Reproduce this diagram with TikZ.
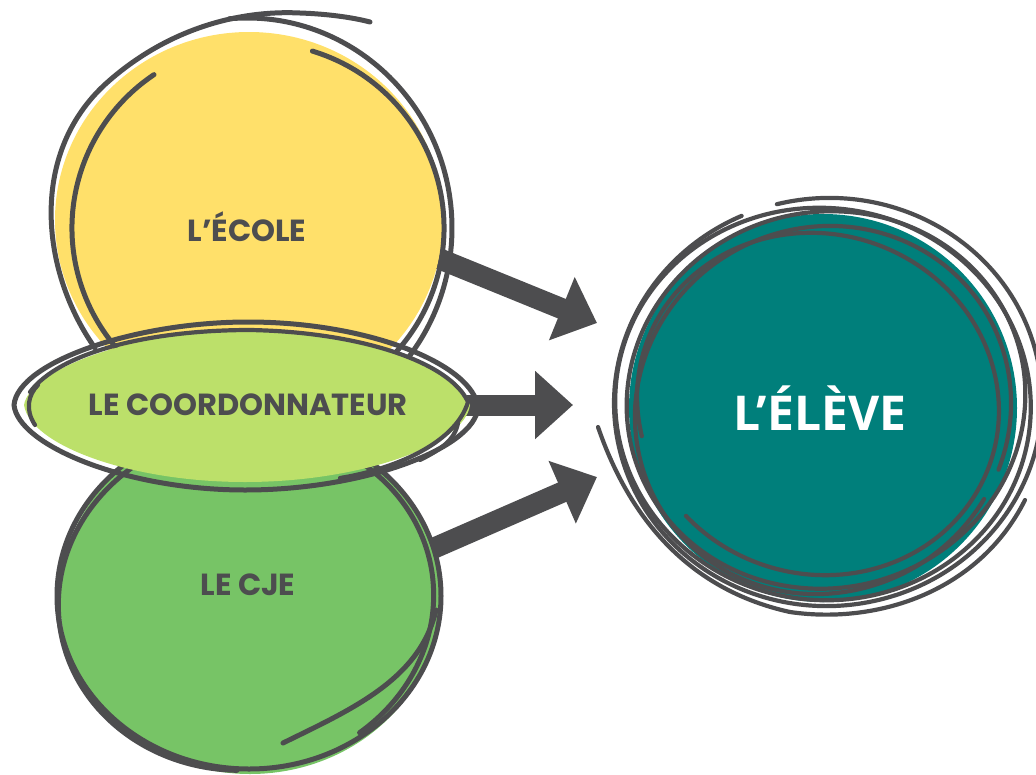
\documentclass[tikz,border=0pt]{standalone}
\usepackage{fontspec}
\usetikzlibrary{arrows.meta,calc}
\newfontfamily\popfont{Poppins}
\newfontfamily\osfont{Open Sans}
\definecolor{gr}{HTML}{4D4D4F}
\definecolor{yel}{HTML}{FFE06A}
\definecolor{lgreen}{HTML}{BCE06A}
\definecolor{mgreen}{HTML}{77C466}
\definecolor{teal}{HTML}{007F7B}
\tikzset{
  sk/.style={draw=gr, line width=5pt, line cap=round},
  skt/.style={draw=gr, line width=4.2pt, line cap=round},
  bigarrow/.style={draw=gr, line width=21pt, -{Triangle[width=66pt,length=38pt]}},
  lbl/.style={font=\popfont\bfseries\fontsize{30.5}{30.5}\selectfont, text=gr},
}
\newcommand{\scribarc}[8][sk]{\draw[#1, shift={(#2,#3)}, rotate=#6] (#7:#4 and #5) arc[start angle=#7, end angle=#8, x radius=#4, y radius=#5];}
\begin{document}
\begin{tikzpicture}[x=1pt,y=-1pt]
\useasboundingbox (0,0) rectangle (1036,774);
% named anchor points
\coordinate (ecS) at (430,255);
\coordinate (ecT) at (597,323);
\coordinate (coS) at (455,405);
\coordinate (coT) at (573,405);
\coordinate (cjS) at (425,552);
\coordinate (cjT) at (597,477);
% arrows (drawn behind circles)
\draw[bigarrow] (ecS) -- (ecT);
\draw[bigarrow] (coS) -- (coT);
\draw[bigarrow] (cjS) -- (cjT);
% ---------------- yellow: L'ECOLE
\fill[yel] (249,220) ellipse[x radius=194, y radius=188];
\draw[sk] (95,348) .. controls (40,270) and (28,150) .. (110,80) .. controls (170,28) and (240,10) .. (300,13) .. controls (330,14) and (355,18) .. (370,22);
\scribarc{247}{228}{205}{210}{0}{-95}{40}
\scribarc{258}{228}{186}{185}{0}{-73}{236}
\node[lbl] (ecole) at (247,227) {L’ÉCOLE};
% ---------------- green: LE CJE
\fill[mgreen] (250,598) ellipse[x radius=190, y radius=176];
\scribarc{249}{596}{192}{173}{0}{0}{360}
\scribarc{246}{600}{188}{170}{8}{100}{420}
\draw[sk] (283,743) .. controls (350,710) and (420,680) .. (436,610);
\node[lbl] (cje) at (248,585) {LE CJE};
% ---------------- light green: LE COORDONNATEUR
\fill[lgreen] (24,405) .. controls (30,368) and (140,330) .. (245,330) .. controls (360,330) and (465,368) .. (470,405) .. controls (465,445) and (360,482) .. (245,482) .. controls (130,482) and (30,445) .. (24,405) -- cycle;
\draw[sk] (14,405) .. controls (18,362) and (135,322) .. (248,322) .. controls (370,322) and (474,365) .. (478,408) .. controls (474,448) and (365,490) .. (245,490) .. controls (125,490) and (18,445) .. (14,405) -- cycle;
\draw[skt] (30,392) .. controls (60,352) and (150,330) .. (250,330) .. controls (360,332) and (450,362) .. (468,402) .. controls (455,445) and (390,470) .. (340,478);
\draw[skt] (35,425) .. controls (25,410) and (28,395) .. (38,385);
\draw[skt] (458,423) .. controls (455,440) and (440,450) .. (420,460);
\node[lbl] (coord) at (248,405) {LE COORDONNATEUR};
% ---------------- teal: L'ELEVE
\fill[teal] (823,408) circle[radius=194];
\scribarc[skt]{823}{404}{208}{196}{-8}{0}{360}
\scribarc[skt]{826}{400}{200}{188}{14}{20}{380}
\scribarc[skt]{823}{410}{190}{182}{30}{60}{410}
\scribarc[skt]{818}{404}{182}{170}{-18}{150}{480}
\scribarc[skt]{828}{402}{214}{204}{4}{-100}{250}
\draw[skt] (598,427) .. controls (630,520) and (690,590) .. (790,612) .. controls (880,625) and (980,590) .. (1025,500);
\node[font=\osfont\bfseries\fontsize{48}{48}\selectfont, text=white] (eleve) at (820,408) {L’ÉLÈVE};
\end{tikzpicture}
\end{document}
